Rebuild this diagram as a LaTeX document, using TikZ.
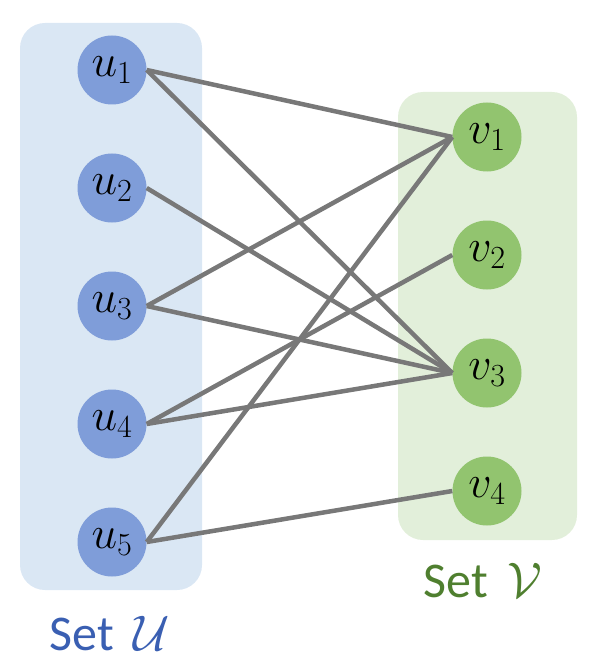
\RequirePackage{fix-cm}
\documentclass[tikz,border=0pt]{standalone}
\usepackage{fontspec}
\setmainfont{Carlito}
\usetikzlibrary{positioning}
\definecolor{panelblue}{HTML}{DAE7F4}
\definecolor{panelgreen}{HTML}{E2EFDA}
\definecolor{nodeblue}{HTML}{7F9DD9}
\definecolor{nodegreen}{HTML}{92C46F}
\definecolor{edgegray}{HTML}{787878}
\definecolor{setblue}{HTML}{3A5FB2}
\definecolor{setgreen}{HTML}{4F7F2F}

\begin{document}
\begin{tikzpicture}[x=1pt,y=-1pt,
  unode/.style={circle,fill=nodeblue,minimum size=69pt,inner sep=0pt,font=\fontsize{46}{48}\selectfont},
  vnode/.style={unode,fill=nodegreen},
  edge/.style={edgegray,line width=4.5pt},
  setlabel/.style={font=\fontsize{50}{52}\selectfont}]

\useasboundingbox (0,0) rectangle (599,671);

% the two sets
\fill[panelblue,rounded corners=25pt] (20,23) rectangle (202,590);
\fill[panelgreen,rounded corners=25pt] (398,92) rectangle (577,540);

\foreach \i in {1,...,5}
  \node[unode] (u\i) at (112,{70+118*(\i-1)}) {$u_\i$};
\foreach \i in {1,...,4}
  \node[vnode] (v\i) at (487,{137+118*(\i-1)}) {$v_\i$};

% edges
\foreach \a/\b in {1/1,1/3,2/3,3/1,3/3,4/2,4/3,5/1,5/4}
  \draw[edge] (u\a.east) -- (v\b.west);

\node[setlabel,text=setblue] (setu) at (110,634) {Set $\,\mathcal{U}$};
\node[setlabel,text=setgreen] (setv) at (483,581) {Set $\,\mathcal{V}$};

\end{tikzpicture}
\end{document}
